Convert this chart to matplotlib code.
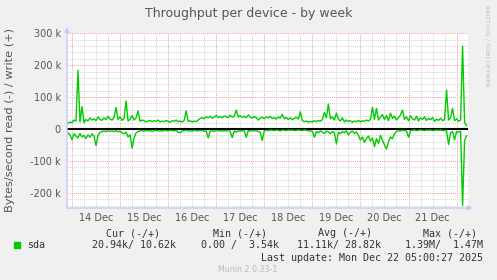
import matplotlib
matplotlib.use("Agg")
import matplotlib.pyplot as plt
from matplotlib.patches import Rectangle
import numpy as np

# hourly samples in kB/s, first one is Dec 13 22:00, last one Dec 22 05:00
write_k = [18, 22, 20, 28, 25, 184, 22, 70, 20, 30, 25, 35, 28,
           32, 26, 38, 30, 27, 35, 29, 40, 31, 28, 36,
           67, 30, 38, 27, 33, 88, 25, 30, 42, 28, 35, 57,
           24, 28, 26, 22, 25, 27, 23, 26, 24, 28, 22, 25, 23, 27, 24, 21, 26, 24, 28, 23, 25, 22, 27,
           57, 24, 26, 22, 25, 23, 28,
           33, 36, 32, 38, 35, 40, 34, 37, 42, 36, 39, 35, 41, 38, 36, 43, 37, 40,
           59, 38, 42, 36, 40, 35, 44, 37, 34, 39, 36,
           28, 34, 37, 32, 38, 35, 40, 33, 36, 31, 38, 34,
           46, 32, 36, 30, 35, 29, 33, 37, 31,
           54, 26, 23, 25, 21, 24, 22, 26, 23, 27, 24, 30,
           52, 35, 78, 32, 38, 28, 50,
           30, 25, 35, 22, 28, 24, 26, 21, 25, 23, 27, 22, 26, 24, 28, 25, 30,
           68, 30, 65, 28, 38, 45, 30, 42, 26, 50, 33, 40, 28, 36, 44,
           59, 30, 38, 26, 42, 32, 28, 40, 25, 35, 30, 38, 27, 33, 29, 36, 24, 31, 27, 34, 26, 30,
           122, 28, 35, 65, 26, 32, 24, 28, 259, 20, 11]

read_k = [-12, -18, -34, -15, -22, -28, -14, -25, -20, -30, -18, -26, -15,
          -22, -52, -20,
          -10, -8, -6, -9, -5, -7, -6, -8, -5, -9, -7, -12, -15,
          -10, -25, -18, -60, -28, -12, -8,
          -6, -5, -7, -4, -6, -5, -8, -5, -4, -6, -5, -7, -4, -5, -6, -4,
          -5, -6, -4, -10, -12, -6, -5, -4, -6, -5, -7, -4, -5, -6, -4, -5, -7, -6,
          -28, -6, -5, -8, -4, -6, -5, -7, -5, -6, -4, -8,
          -27, -6, -10, -5, -7, -5, -6,
          -26, -5, -7, -4, -6, -5, -8, -10,
          -36, -6, -4, -5, -3, -4, -5, -3, -4, -6, -3, -4, -5, -3, -4, -3, -5, -4, -3, -4, -5, -3, -4, -6, -5, -8,
          -26, -8, -12, -6, -10, -14, -7, -9, -15, -8, -12,
          -47, -10, -15, -8, -12, -6, -18, -10, -7, -14, -9,
          -20, -35, -25, -42, -30, -22, -38, -28, -55, -30, -45, -20, -35, -50, -63, -40, -25, -30, -15,
          -8, -5, -6, -4, -5, -6,
          -26, -5, -4, -3, -5, -4, -3, -4, -5, -3, -4, -3, -5, -4, -3, -4, -3, -5, -4, -6,
          -48, -12, -8, -34, -8, -10, -7, -240, -36, -21]

day_labels = ["14 Dec", "15 Dec", "16 Dec", "17 Dec", "18 Dec", "19 Dec", "20 Dec", "21 Dec"]
ytick_k = [-200, -100, 0, 100, 200, 300]
ytick_labels = ["-200 k", "-100 k", "0", "100 k", "200 k", "300 k"]

legend_heads = ["Cur (-/+)", "Min (-/+)", "Avg (-/+)", "Max (-/+)"]
legend_vals = ["20.94k/ 10.62k", "0.00 /  3.54k", "11.11k/ 28.82k", "1.39M/  1.47M"]

W, H = 497, 280
GREEN = "#00cc00"
TXT = "#555555"
MONO = "DejaVu Sans Mono"

plt.rcParams["lines.scale_dashes"] = False

fig = plt.figure(figsize=(W / 100, H / 100), dpi=100, facecolor="#f0f0f0")
ax = fig.add_axes([67 / W, 72 / H, 401 / W, 174.7 / H])
ax.set_facecolor("white")
for s in ax.spines.values():
    s.set_visible(False)

x0, x1 = -2.48, 197.7
y0, y1 = -247.6, 300
ax.set_xlim(x0, x1)
ax.set_ylim(y0, y1)

# grid, rrdtool style dotted lines
dots = (0, (0.75, 0.75))
for h in np.arange(0, x1, 6):
    major = h % 24 == 0
    ax.axvline(h, color="#f0a0a0" if major else "#d4d4d4", lw=0.7, ls=dots, zorder=1)
for v in np.arange(-240, 301, 20):
    major = v % 100 == 0
    ax.axhline(v, color="#f0a0a0" if major else "#d4d4d4", lw=0.7, ls=dots, zorder=1)

ax.axhline(0, color="black", lw=1.5, zorder=2)

t_w = np.arange(len(write_k)) - 2
t_r = np.arange(len(read_k)) - 2
ax.plot(t_w, write_k, color=GREEN, lw=1.0, zorder=3)
ax.plot(t_r, read_k, color=GREEN, lw=1.0, zorder=3)

ax.set_xticks([12 + 24 * i for i in range(len(day_labels))], day_labels)
ax.set_yticks(ytick_k, ytick_labels)
ax.tick_params(axis="x", length=0, pad=3.5, labelsize=7, colors=TXT)
ax.tick_params(axis="y", length=0, pad=4.5, labelsize=7, colors=TXT)

# axis arrows
arrow = dict(arrowstyle="-|>", color="#c8c8f8", lw=1.0, mutation_scale=7, shrinkA=0, shrinkB=0)
ax.annotate("", xy=(0, 1.036), xytext=(0, 0), xycoords="axes fraction", arrowprops=arrow)
ax.annotate("", xy=(1.012, 0), xytext=(0, 0), xycoords="axes fraction", arrowprops=arrow)


def ft(x, y, s, **kw):
    fig.text(x / W, 1 - y / H, s, **kw)


ft(248.5, 13.5, "Throughput per device - by week", ha="center", va="center", fontsize=9, color=TXT)
ft(10.5, 120, "Bytes/second read (-) / write (+)", rotation=90, ha="center", va="center",
   fontsize=8.2, color=TXT)
ft(487, 5, "RRDTOOL / TOBI OETIKER", rotation=270, ha="center", va="top", fontsize=4.6, color="#bbbbbb")

# legend block
fig.add_artist(Rectangle((14 / W, 1 - 247.5 / H), 5.5 / W, 5.5 / H, transform=fig.transFigure,
                         color=GREEN))
ft(26.7, 245.3, "sda", ha="left", va="center", fontsize=7.2, family=MONO, color="#333333")
for cx, head in zip([133.5, 240, 345, 450], legend_heads):
    ft(cx, 233.3, head, ha="center", va="center", fontsize=7.2, family=MONO, color="#333333")
for rx, val in zip([176, 279, 381, 483], legend_vals):
    ft(rx, 245.3, val, ha="right", va="center", fontsize=7.2, family=MONO, color="#333333")
ft(483, 257.7, "Last update: Mon Dec 22 05:00:27 2025", ha="right", va="center", fontsize=7.2,
   family=MONO, color="#333333")
ft(248, 269, "Munin 2.0.33-1", ha="center", va="center", fontsize=5.7, color="#bbbbbb")

fig.savefig("out.png", dpi=100, facecolor=fig.get_facecolor())
